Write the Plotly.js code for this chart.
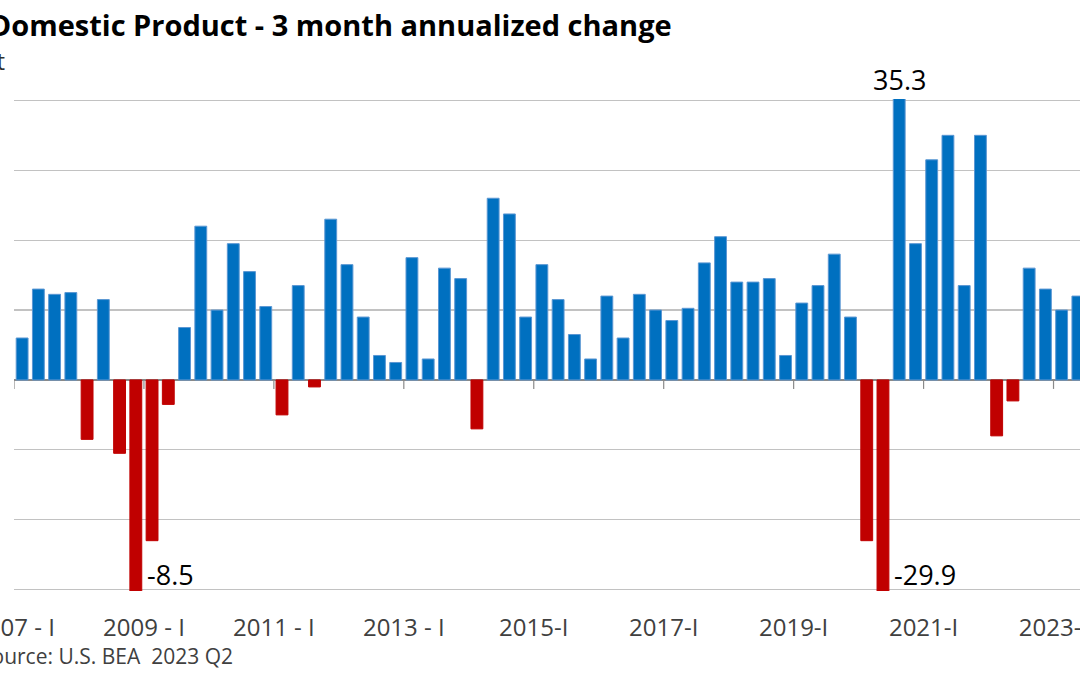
<!DOCTYPE html>
<html>
<head>
<meta charset="utf-8">
<script src="https://cdn.plot.ly/plotly-3.0.1.min.js"></script>
<style>
  html, body { margin: 0; padding: 0; background: #ffffff; overflow: hidden; width: 1080px; height: 675px; }
  #chart { position: absolute; left: -120px; top: 0; width: 1220px; height: 675px; }
</style>
</head>
<body>
<div id="chart"></div>
<script>
// Quarters 2007 Q1 .. 2023 Q2
const quarters = [
  "2007 Q1","2007 Q2","2007 Q3","2007 Q4",
  "2008 Q1","2008 Q2","2008 Q3","2008 Q4",
  "2009 Q1","2009 Q2","2009 Q3","2009 Q4",
  "2010 Q1","2010 Q2","2010 Q3","2010 Q4",
  "2011 Q1","2011 Q2","2011 Q3","2011 Q4",
  "2012 Q1","2012 Q2","2012 Q3","2012 Q4",
  "2013 Q1","2013 Q2","2013 Q3","2013 Q4",
  "2014 Q1","2014 Q2","2014 Q3","2014 Q4",
  "2015 Q1","2015 Q2","2015 Q3","2015 Q4",
  "2016 Q1","2016 Q2","2016 Q3","2016 Q4",
  "2017 Q1","2017 Q2","2017 Q3","2017 Q4",
  "2018 Q1","2018 Q2","2018 Q3","2018 Q4",
  "2019 Q1","2019 Q2","2019 Q3","2019 Q4",
  "2020 Q1","2020 Q2","2020 Q3","2020 Q4",
  "2021 Q1","2021 Q2","2021 Q3","2021 Q4",
  "2022 Q1","2022 Q2","2022 Q3","2022 Q4",
  "2023 Q1","2023 Q2"
];

// GDP, 3 month annualized change (percent)
const gdpChange = [
  1.2, 2.6, 2.45, 2.5,
  -1.7, 2.3, -2.1, -8.5,
  -4.6, -0.7, 1.5, 4.4,
  2.0, 3.9, 3.1, 2.1,
  -1.0, 2.7, -0.2, 4.6,
  3.3, 1.8, 0.7, 0.5,
  3.5, 0.6, 3.2, 2.9,
  -1.4, 5.2, 4.75, 1.8,
  3.3, 2.3, 1.3, 0.6,
  2.4, 1.2, 2.45, 2.0,
  1.7, 2.05, 3.35, 4.1,
  2.8, 2.8, 2.9, 0.7,
  2.2, 2.7, 3.6, 1.8,
  -4.6, -29.9, 35.3, 3.9,
  6.3, 7.0, 2.7, 7.0,
  -1.6, -0.6, 3.2, 2.6,
  2.0, 2.4
];

// Axis tick labels (placed at the start of each labelled quarter)
const tickQuarters = ["2007 Q1","2009 Q1","2011 Q1","2013 Q1","2015 Q1","2017 Q1","2019 Q1","2021 Q1","2023 Q1"];
const tickLabels = ["2007 - I","2009 - I","2011 - I","2013 - I","2015-I","2017-I","2019-I","2021-I","2023-I"];

const titleText = "Gross Domestic Product - 3 month annualized change";
const yAxisLabel = "Percent";
const sourceText = "Source: U.S. BEA  2023 Q2";

// ---- styling / layout ----
const Y_MIN = -6, Y_MAX = 8, Y_PAD = 0.04;
const BLUE = "#0070C0", BLUE_EDGE = "#5b97d3", RED = "#C00000";
const AXIS_GRAY = "#8a8a8a";
const n = quarters.length;

const colors = gdpChange.map(v => v >= 0 ? BLUE : RED);
const edges = gdpChange.map(v => v >= 0 ? BLUE_EDGE : RED);

const tickPos = tickQuarters.map(q => quarters.indexOf(q) - 0.5);

// labels for bars that run past the axis range
const annotations = [];
gdpChange.forEach((v, i) => {
  if (v > Y_MAX) {
    annotations.push({
      x: quarters[i], y: Y_MAX, xref: "x", yref: "y",
      text: v.toFixed(1), showarrow: false,
      xanchor: "center", yanchor: "bottom", yshift: 0,
      font: { family: "Open Sans", size: 27, color: "#000000" }
    });
  } else if (v < Y_MIN) {
    annotations.push({
      x: quarters[i], y: Y_MIN, xref: "x", yref: "y",
      text: v.toFixed(1), showarrow: false,
      xanchor: "left", yanchor: "middle", xshift: 9, yshift: 15,
      font: { family: "Open Sans", size: 27, color: "#000000" }
    });
  }
});

annotations.push({
  text: yAxisLabel, xref: "paper", yref: "paper",
  x: -0.0062, y: 1.079, xanchor: "right", yanchor: "middle",
  showarrow: false, font: { family: "Open Sans", size: 24, color: "#303030" }
});
annotations.push({
  text: sourceText, xref: "paper", yref: "paper",
  x: 0.2061, y: -0.1327, xanchor: "right", yanchor: "middle",
  showarrow: false, font: { family: "Open Sans", size: 21, color: "#404040" }
});

// small tick marks hanging below the zero line at each label boundary
const shapes = tickPos.map(p => ({
  type: "line", xref: "x", yref: "y",
  x0: p, x1: p,
  ysizemode: "pixel", yanchor: 0, y0: 0, y1: -9,
  line: { color: AXIS_GRAY, width: 1.2 }
}));

const trace = {
  type: "bar",
  x: quarters,
  y: gdpChange,
  marker: { color: colors, line: { color: edges, width: 1 } },
  hoverinfo: "x+y",
  showlegend: false
};

const layout = {
  width: 1220, height: 675,
  margin: { l: 134, r: 13.5, t: 98.6, b: 83.6, pad: 0 },
  paper_bgcolor: "#ffffff", plot_bgcolor: "#ffffff",
  font: { family: "Open Sans", color: "#404040" },
  bargap: 0.27,
  title: {
    text: titleText,
    xref: "paper", x: 0.6135, xanchor: "right",
    yref: "container", y: 1 - 26 / 675, yanchor: "middle",
    font: { family: "Open Sans", size: 29, color: "#000000", weight: "bold" }
  },
  xaxis: {
    type: "category",
    range: [-0.5, n - 0.5],
    tickmode: "array", tickvals: tickPos, ticktext: tickLabels,
    ticks: "", showgrid: false, zeroline: false, showline: false,
    tickfont: { family: "Open Sans", size: 24, color: "#404040" },
    ticklabelstandoff: 20,
    fixedrange: true
  },
  yaxis: {
    range: [Y_MIN - Y_PAD, Y_MAX + Y_PAD], tick0: 0, dtick: 2,
    showticklabels: false, ticks: "",
    showgrid: true, gridcolor: "#c2c2c2", gridwidth: 1.2,
    zeroline: true, zerolinecolor: AXIS_GRAY, zerolinewidth: 1.2,
    showline: false, fixedrange: true
  },
  shapes: shapes,
  annotations: annotations
};

Plotly.newPlot("chart", [trace], layout, { displayModeBar: false, staticPlot: true });
</script>
</body>
</html>
